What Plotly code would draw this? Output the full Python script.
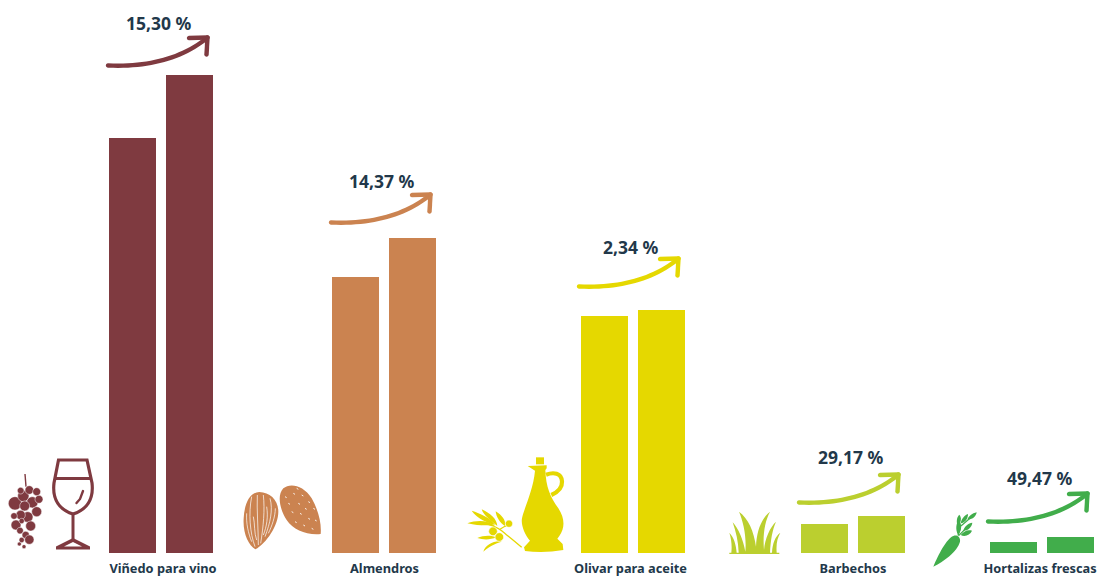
import re
import math
import plotly.graph_objects as go

# ---- data (hidden axis, relative units) ----
categories = ["Viñedo para vino", "Almendros", "Olivar para aceite", "Barbechos", "Hortalizas frescas"]
values_before = [415, 276, 237, 29, 11]
values_after = [478, 315, 243, 37, 16]
change_labels = ["15,30 %", "14,37 %", "2,34 %", "29,17 %", "49,47 %"]
colors = ["#7F3A40", "#CB8350", "#E5D800", "#BBCF2F", "#41AD4B"]

# ---- layout constants ----
W, H, BASE = 1098, 577, 553
bar_w = 47
pos_before = [132.5, 355.5, 604.5, 824.5, 1013.5]
pos_after = [189.5, 412.5, 661.5, 881.5, 1070.5]
label_x = [163, 384.5, 630.5, 853, 1040]
pct_x = [159, 382, 631, 851, 1040]
pct_y = [23, 181, 247, 457, 478]
arrow_off = [(0, 0), (223, 157), (471, 221), (691, 437), (880, 456)]
TEXT = "#22384A"
FONT = "Noto Sans"


def conv(path, ox=0.0, oy=0.0, s=1.0):
    """Turn 'x,y' pairs given in picture coordinates into data coordinates."""
    def rep(m):
        x = ox + float(m.group(1)) * s
        y = BASE - (oy + float(m.group(2)) * s)
        return f"{x:.2f},{y:.2f}"
    return re.sub(r"(-?[\d.]+),(-?[\d.]+)", rep, path)


shapes = []


def fill(path, color, ox=0.0, oy=0.0, s=1.0, line=None, lw=0):
    shapes.append(dict(type="path", path=conv(path, ox, oy, s), xref="x", yref="y",
                       fillcolor=color, layer="above",
                       line=dict(color=line or color, width=lw)))


def stroke(path, color, lw, ox=0.0, oy=0.0, s=1.0):
    shapes.append(dict(type="path", path=conv(path, ox, oy, s), xref="x", yref="y",
                       layer="above", line=dict(color=color, width=lw)))


def circ(cx, cy, r, color, ox, oy, line=None, lw=0):
    k = 0.5523 * r
    p = (f"M {cx-r},{cy} C {cx-r},{cy-k} {cx-k},{cy-r} {cx},{cy-r} "
         f"C {cx+k},{cy-r} {cx+r},{cy-k} {cx+r},{cy} "
         f"C {cx+r},{cy+k} {cx+k},{cy+r} {cx},{cy+r} "
         f"C {cx-k},{cy+r} {cx-r},{cy+k} {cx-r},{cy} Z")
    fill(p, color, ox, oy, 1 / 3, line, lw)


def stroke_outline(pts, w):
    """Filled outline with round caps for a polyline given in picture px."""
    left, right = [], []
    n = len(pts)
    for i, (x, y) in enumerate(pts):
        a = pts[max(i - 1, 0)]
        b = pts[min(i + 1, n - 1)]
        dx, dy = b[0] - a[0], b[1] - a[1]
        d = math.hypot(dx, dy) or 1
        left.append((x - dy / d * w / 2, y + dx / d * w / 2))
        right.append((x + dy / d * w / 2, y - dx / d * w / 2))

    def cap(c, frm, steps=6):
        a0 = math.atan2(frm[1] - c[1], frm[0] - c[0])
        return [(c[0] + w / 2 * math.cos(a0 - math.pi * j / steps),
                 c[1] + w / 2 * math.sin(a0 - math.pi * j / steps)) for j in range(1, steps)]

    ring = left + cap(pts[-1], left[-1]) + list(reversed(right)) + cap(pts[0], right[0])
    return "M " + " L ".join(f"{x:.2f},{y:.2f}" for x, y in ring) + " Z"


def qbez(p0, p1, p2, n=24):
    out = []
    for i in range(n + 1):
        t = i / n
        out.append(((1 - t) ** 2 * p0[0] + 2 * (1 - t) * t * p1[0] + t * t * p2[0],
                    (1 - t) ** 2 * p0[1] + 2 * (1 - t) * t * p1[1] + t * t * p2[1]))
    return out


def arrow(dx, dy, color):
    w = 4.4
    tail = (108 + dx, 65.5 + dy)
    ctrl = (170 + dx, 68 + dy)
    tip = (207 + dx, 38 + dy)
    fill(stroke_outline(qbez(tail, ctrl, tip), w), color)
    head = [(189 + dx, 38 + dy), (207.5 + dx, 37.5 + dy), (206.5 + dx, 54.5 + dy)]
    fill(stroke_outline(head[:2], w), color)
    fill(stroke_outline(head[1:], w), color)


for (dx, dy), col in zip(arrow_off, colors):
    arrow(dx, dy, col)

# ---- icons (hand-drawn, coordinates in the 3x crop frame) ----
WINE = colors[0]
# grapes
stroke("M 75,102 L 78,140", WINE, 1.4, 0, 440, 1 / 3)
for c in [(45, 190, 20), (70, 168, 17), (88, 150, 13), (110, 155, 12), (62, 152, 10),
          (97, 187, 17), (117, 178, 12), (74, 198, 15), (110, 215, 15), (83, 231, 16),
          (62, 225, 14), (42, 228, 10), (48, 255, 15), (65, 243, 8), (92, 258, 15),
          (60, 272, 10), (77, 285, 11), (88, 299, 14), (65, 300, 8), (58, 312, 6), (72, 320, 6)]:
    circ(c[0], c[1], c[2], WINE, 0, 440, "#FFFFFF", 0.5)
# wine glass
stroke("M 58.5,460 L 87,460 L 92,483 C 94,500 86,510 73,514 C 60,510 52,500 54,483 Z", WINE, 3.2)
stroke("M 54,478.5 L 92,478.5", WINE, 3)
stroke("M 73,514 L 73,541", WINE, 3)
fill("M 56,549.5 L 56,546.5 L 73,538 L 90,546.5 L 90,549.5 Z", WINE)
fill("M 64,546.5 L 82,546.5 L 73,542 Z", "#FFFFFF")
fill(stroke_outline([(76.5, 503), (80, 499), (83, 491)], 2.4), WINE)

# almonds
AL = colors[1]
fill("M 766,328 C 745,315 728,280 731,235 C 733,190 750,157 778,156 C 810,157 835,180 835,215 "
     "C 835,255 800,310 766,328 Z", AL, 0, 440, 1 / 3)
fill("M 962,282 C 920,286 880,270 860,240 C 840,210 830,165 850,145 C 870,128 910,135 935,175 "
     "C 955,210 965,250 962,282 Z", AL, 0, 440, 1 / 3)
for s_path in ["M 755,170 C 745,220 750,280 765,320", "M 772,165 C 770,210 775,270 775,315",
               "M 790,165 C 795,210 790,260 782,310", "M 810,175 C 820,210 810,250 795,290",
               "M 740,220 C 738,250 745,280 755,305", "M 826,205 C 826,230 815,260 805,280",
               "M 760,230 C 765,250 762,280 770,300", "M 800,200 C 805,230 800,260 790,285"]:
    stroke(s_path, "#FFFFFF", 0.7, 0, 440, 1 / 3)
for (x, y) in [(880, 160), (905, 165), (925, 185), (865, 190), (895, 190), (915, 205), (940, 205),
               (875, 215), (900, 220), (925, 235), (945, 240), (885, 245), (910, 255), (935, 265),
               (855, 170), (890, 145)]:
    stroke(f"M {x},{y} L {x+5},{y+3}", "#FFFFFF", 0.9, 0, 440, 1 / 3)

# oil jar
OL = colors[2]
O = (450, 440, 1 / 3)
fill("M 258,52 L 282,52 L 282,73 L 258,73 Z", OL, *O)
fill("M 233,78 L 290,76 L 290,85 L 286,90 C 288,140 300,170 325,205 C 345,235 345,265 328,288 "
     "L 322,296 L 338,312 L 340,330 C 300,337 260,337 225,333 L 222,322 L 240,302 "
     "C 225,285 212,255 216,235 C 222,205 250,150 255,92 Z", OL, *O)
stroke("M 288,104 C 310,96 335,98 336,125 C 337,145 320,158 304,165", OL, 4.2, *O)
# olive branch
stroke("M 215,322 C 190,300 170,285 155,272 C 140,262 125,255 100,248", OL, 1.3, *O)
stroke("M 150,268 C 158,262 165,258 175,255", OL, 1.2, *O)
for lf in ["M 135,258 C 120,255 95,260 52,250 C 80,240 115,240 135,258 Z",
           "M 135,255 C 115,250 80,235 65,212 C 90,220 125,235 135,255 Z",
           "M 142,258 C 125,245 100,225 95,208 C 120,220 140,235 142,258 Z",
           "M 165,258 C 150,250 138,230 137,214 C 155,225 168,240 165,258 Z",
           "M 140,292 C 120,300 100,300 82,294 C 100,285 125,285 140,292 Z",
           "M 155,305 C 135,310 110,325 100,335 C 105,315 135,300 155,305 Z"]:
    fill(lf, OL, *O)
for c in [(177, 251, 11), (129, 274, 13), (148, 291, 13)]:
    circ(c[0], c[1], c[2], OL, 450, 440, "#FFFFFF", 0.6)

# grass
GR = colors[3]
G = (720, 440, 1 / 3)
fill("M 28,342 L 178,342 L 178,338 C 172,338 171,338 170,338 C 168,310 172,295 181,278 "
     "C 165,290 158,310 156,338 L 150,338 C 152,300 157,270 168,245 C 150,262 135,295 132,330 "
     "C 128,285 134,245 150,215 C 125,235 110,270 108,320 C 102,275 85,235 57,215 C 70,245 "
     "80,290 76,335 C 70,300 55,265 38,247 C 48,275 55,305 56,338 L 50,338 C 48,315 42,292 28,278 "
     "C 35,300 36,320 34,338 L 28,338 Z", GR, *G)

# carrot
CA = colors[4]
C = (720, 440, 1 / 3)
fill("M 640,380 C 655,345 680,295 700,288 C 712,283 722,292 720,305 C 712,335 670,365 640,380 Z", CA, *C)
stroke("M 714,287 L 722,262 M 716,287 L 745,258 M 720,260 L 765,222", CA, 1.2, *C)
for lf in ["M 714,285 C 706,270 708,250 716,240 C 726,250 726,272 714,285 Z",
           "M 712,255 C 708,240 712,230 718,224 C 726,234 724,248 712,255 Z",
           "M 722,250 C 724,236 734,226 744,222 C 744,236 736,248 722,250 Z",
           "M 742,238 C 746,228 756,220 770,217 C 768,230 756,240 742,238 Z",
           "M 730,272 C 734,258 745,250 757,248 C 755,262 744,272 730,272 Z",
           "M 722,285 C 732,272 745,268 756,272 C 750,285 735,292 722,285 Z"]:
    fill(lf, CA, *C)

# ---- traces ----
fig = go.Figure()
fig.add_trace(go.Bar(x=pos_before, y=values_before, width=bar_w, marker=dict(color=colors, line=dict(width=0)),
                     name="Anterior", showlegend=False))
fig.add_trace(go.Bar(x=pos_after, y=values_after, width=bar_w, marker=dict(color=colors, line=dict(width=0)),
                     name="Posterior", showlegend=False))

annotations = [
    dict(x=x, y=BASE - y, xref="x", yref="y", text=f"<b>{t}</b>", showarrow=False,
         xanchor="center", yanchor="middle", font=dict(family=FONT, size=17.5, color=TEXT))
    for x, y, t in zip(pct_x, pct_y, change_labels)
]

fig.update_layout(
    width=W, height=H, autosize=False,
    margin=dict(l=0, r=0, t=0, b=0, pad=0),
    paper_bgcolor="#FFFFFF", plot_bgcolor="#FFFFFF",
    barmode="overlay", showlegend=False,
    shapes=shapes, annotations=annotations,
    xaxis=dict(range=[0, W], domain=[0, 1], showgrid=False, zeroline=False, showline=False,
               tickmode="array", tickvals=label_x, ticktext=[f"<b>{c}</b>" for c in categories],
               ticks="", ticklabelposition="inside", ticklabelstandoff=-2, fixedrange=True,
               tickfont=dict(family=FONT, size=12.8, color=TEXT)),
    yaxis=dict(range=[BASE - H, BASE], domain=[0, 1], visible=False, fixedrange=True),
)
fig.write_html("out.html", config=dict(displayModeBar=False),
               post_script="document.body.style.margin='0';")
